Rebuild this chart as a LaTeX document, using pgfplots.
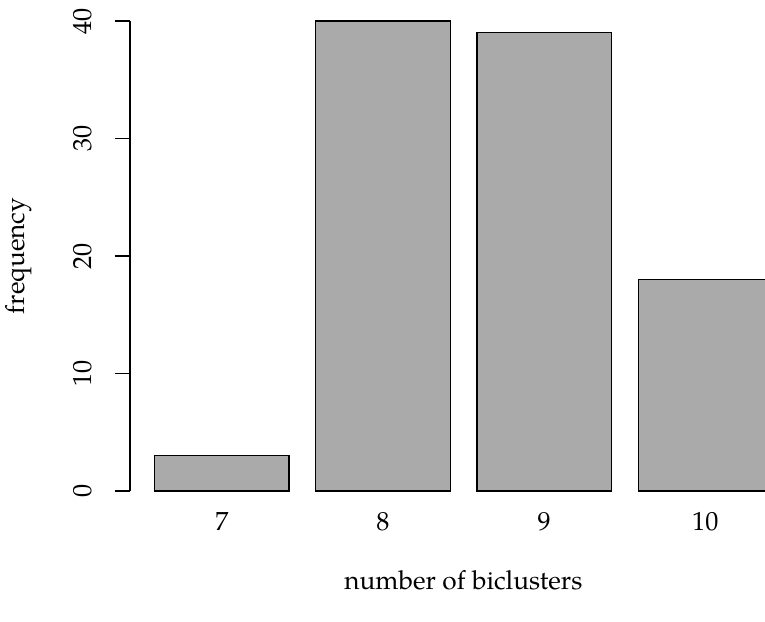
\documentclass[border=0pt]{standalone}
\usepackage{fontspec}
\setmainfont{TeX Gyre Pagella}
\usepackage{pgfplots}
\pgfplotsset{compat=1.18}
\definecolor{bargray}{HTML}{AAAAAA}
\begin{document}
\begin{tikzpicture}[x=1pt,y=1pt]
\begin{axis}[
  at={(0,0)}, anchor=south west,
  scale only axis, width=317.5pt, height=235pt,
  xmin=0.016, xmax=4.745, ymin=0, ymax=40,
  clip=false,
  axis lines*=left,
  x axis line style={draw=none},
  y axis line style={-, line width=0.6pt},
  ytick={0,10,20,30,40},
  xtick={0.7,1.9,3.1,4.3},
  xticklabels={7,8,9,10},
  x tick style={draw=none},
  y tick style={line width=0.6pt, black},
  tick align=outside,
  major tick length=7.5pt,
  tick pos=left,
  /pgf/number format/assume math mode=true,
  tick label style={font=\fontsize{13.1}{15}\selectfont},
  yticklabel style={rotate=90, anchor=south, inner sep=0pt},
  yticklabel shift=11.5pt,
  xticklabel style={anchor=base, inner sep=0pt, yshift=-12pt},
  label style={font=\fontsize{13.1}{15}\selectfont},
  xlabel={number of biclusters},
  ylabel={frequency},
  xlabel style={at={(axis description cs:0.525,-0.189)}, anchor=center},
  ylabel style={at={(axis description cs:-0.176,0.5)}, anchor=center, rotate=0},
]
\addplot[ybar, bar width=1, fill=bargray, draw=black, line width=0.6pt]
  coordinates {(0.7,3) (1.9,40) (3.1,39) (4.3,18)};
\end{axis}
\pgfresetboundingbox
\useasboundingbox (-65,-65) rectangle (317.5,245.5);
\end{tikzpicture}
\end{document}
